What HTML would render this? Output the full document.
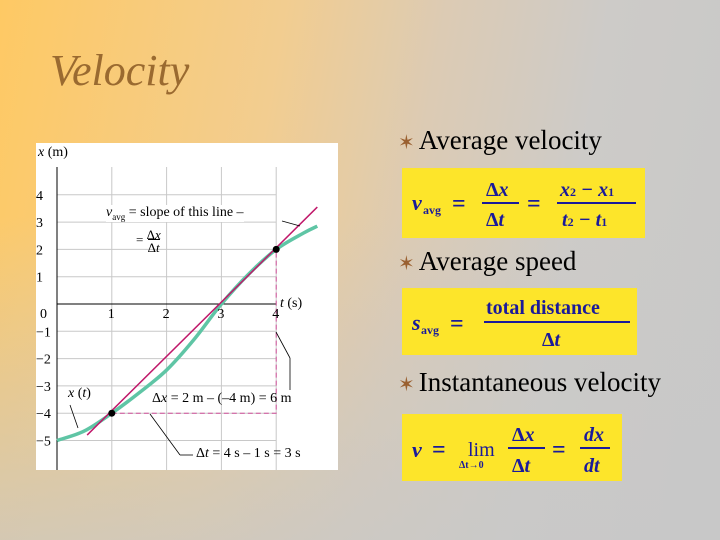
<!DOCTYPE html>
<html><head><meta charset="utf-8"><style>
body{margin:0;width:720px;height:540px;overflow:hidden;font-family:"Liberation Serif",serif;}
#slide{position:absolute;left:0;top:0;width:720px;height:540px;background:linear-gradient(100deg,#fec964 0%,#f2cd90 35%,#dccbb4 55%,#cdcbc8 75%,#c8c8c8 100%);}
#vig{position:absolute;left:0;top:0;width:720px;height:540px;background:linear-gradient(180deg,rgba(200,200,200,0) 0%,rgba(200,200,200,0) 40%,rgba(200,200,200,0.75) 100%);}
.title{position:absolute;left:50px;top:45px;font-style:italic;font-size:44px;color:#9a6a30;}
.bullet{position:absolute;font-size:27px;color:#000;white-space:nowrap;}
.bullet span{color:#9a6030;font-size:20px;margin-right:4px;}
.box{position:absolute;background:#fde52a;}
.box svg{position:absolute;left:0;top:0;}
.lab{position:absolute;white-space:nowrap;}
</style></head><body>
<div id="slide"></div>
<div id="vig"></div>
<div class="title">Velocity</div>

<div class="bullet" style="left:398px;top:125px"><span>✶</span>Average velocity</div>
<div class="bullet" style="left:398px;top:246px"><span>✶</span>Average speed</div>
<div class="bullet" style="left:398px;top:367px"><span>✶</span>Instantaneous velocity</div>

<div class="box" style="left:402px;top:168px;width:243px;height:70px">
<svg width="243" height="70" font-family="Liberation Serif,serif" fill="#1a1a9a" font-weight="bold">
<text x="10" y="42" font-style="italic" font-size="22">v</text><text x="21" y="46" font-size="12">avg</text>
<text x="50" y="43" font-size="24">=</text>
<text x="84" y="28" font-size="20">Δ<tspan font-style="italic">x</tspan></text>
<line x1="80" y1="35" x2="117" y2="35" stroke="#1a1a9a" stroke-width="2"/>
<text x="84" y="58" font-size="20">Δ<tspan font-style="italic">t</tspan></text>
<text x="125" y="43" font-size="24">=</text>
<text x="158" y="28" font-size="20" font-style="italic">x<tspan font-size="12" font-style="normal">2</tspan> − x<tspan font-size="12" font-style="normal">1</tspan></text>
<line x1="155" y1="35" x2="234" y2="35" stroke="#1a1a9a" stroke-width="2"/>
<text x="160" y="58" font-size="20" font-style="italic">t<tspan font-size="12" font-style="normal">2</tspan> − t<tspan font-size="12" font-style="normal">1</tspan></text>
</svg></div>

<div class="box" style="left:402px;top:288px;width:235px;height:67px">
<svg width="235" height="67" font-family="Liberation Serif,serif" fill="#1a1a9a" font-weight="bold">
<text x="10" y="42" font-style="italic" font-size="22">s</text><text x="19" y="46" font-size="12">avg</text>
<text x="48" y="43" font-size="24">=</text>
<text x="84" y="26" font-size="20">total distance</text>
<line x1="82" y1="34" x2="228" y2="34" stroke="#1a1a9a" stroke-width="2"/>
<text x="140" y="58" font-size="20">Δ<tspan font-style="italic">t</tspan></text>
</svg></div>

<div class="box" style="left:402px;top:414px;width:220px;height:67px">
<svg width="220" height="67" font-family="Liberation Serif,serif" fill="#1a1a9a" font-weight="bold">
<text x="10" y="43" font-style="italic" font-size="22">v</text>
<text x="30" y="43" font-size="24">=</text>
<text x="66" y="42" font-size="20" font-weight="normal">lim</text>
<text x="57" y="54" font-size="10">Δt→0</text>
<text x="110" y="27" font-size="20">Δ<tspan font-style="italic">x</tspan></text>
<line x1="106" y1="34" x2="143" y2="34" stroke="#1a1a9a" stroke-width="2"/>
<text x="110" y="58" font-size="20">Δ<tspan font-style="italic">t</tspan></text>
<text x="150" y="43" font-size="24">=</text>
<text x="182" y="27" font-size="20" font-style="italic">dx</text>
<line x1="178" y1="34" x2="208" y2="34" stroke="#1a1a9a" stroke-width="2"/>
<text x="182" y="58" font-size="20" font-style="italic">dt</text>
</svg></div>

<svg id="chart" style="position:absolute;left:0;top:0" width="720" height="540" font-family="Liberation Serif,serif">
<rect x="36" y="143" width="302" height="327" fill="#fff"/>
<g id="grid"></g><g id="marks"></g><g id="labels"></g>
</svg>
<script>
const tTicks=[1,2,3,4];
const xTicks=[-5,-4,-3,-2,-1,0,1,2,3,4];
const xTickLabels=["−5","−4","−3","−2","−1","0","1","2","3","4"];
const curveT=[0,0.5,1,1.5,2,2.5,3,3.5,4,4.5,4.75];
const curveX=[-5,-4.65,-4,-3.25,-2.42,-1.3,0,1.1,2,2.6,2.85];
const pointT=[1,4];
const pointX=[-4,2];
const lineT=[0.55,4.75];
const lineX=[-4.8,3.55];
const sx=t=>57+t*54.8;
const sy=x=>304-x*27.3;
const NS="http://www.w3.org/2000/svg";
function mk(tag,attrs,parent){const e=document.createElementNS(NS,tag);for(const k in attrs)e.setAttribute(k,attrs[k]);document.getElementById(parent).appendChild(e);return e;}
const gTop=167,gBot=470;
for(const t of tTicks){const l=mk('line',{x1:sx(t),x2:sx(t),y1:gTop,y2:gBot,stroke:'#c8c8c8','stroke-width':1},'grid');


const tx=mk('text',{x:sx(t)-4,y:318,'font-size':14},'labels');tx.textContent=t;

}
xTicks.forEach((v,i)=>{if(v!==0){const l=mk('line',{x1:57,x2:sx(4),y1:sy(v),y2:sy(v),stroke:'#c8c8c8','stroke-width':1},'grid');

}
const tx=mk('text',{x:v===0?40:36,y:v===0?318:sy(v)+5,'font-size':14},'labels');tx.textContent=xTickLabels[i];

});
let a=mk('line',{x1:57,x2:57,y1:gTop,y2:gBot,stroke:'#000','stroke-width':1},'grid');


a=mk('line',{x1:57,x2:sx(4),y1:sy(0),y2:sy(0),stroke:'#000','stroke-width':1},'grid');


const P=curveT.map((t,i)=>[sx(t),sy(curveX[i])]);
let d='M'+P[0][0]+','+P[0][1];
for(let i=0;i<P.length-1;i++){const p0=P[Math.max(i-1,0)],p1=P[i],p2=P[i+1],p3=P[Math.min(i+2,P.length-1)];
d+=` C${p1[0]+(p2[0]-p0[0])/6},${p1[1]+(p2[1]-p0[1])/6} ${p2[0]-(p3[0]-p1[0])/6},${p2[1]-(p3[1]-p1[1])/6} ${p2[0]},${p2[1]}`;}
const c=mk('path',{d:d,fill:'none',stroke:'#5fc5a5','stroke-width':3.5},'marks');


const dl=mk('polyline',{points:`${sx(pointT[0])},${sy(pointX[0])} ${sx(pointT[1])},${sy(pointX[0])} ${sx(pointT[1])},${sy(pointX[1])}`,fill:'none',stroke:'#d0509a','stroke-width':1,'stroke-dasharray':'5,3'},'marks');


const sl=mk('line',{x1:sx(lineT[0]),y1:sy(lineX[0]),x2:sx(lineT[1]),y2:sy(lineX[1]),stroke:'#c0186a','stroke-width':1.5},'marks');


pointT.forEach((t,i)=>{const p=mk('circle',{cx:sx(t),cy:sy(pointX[i]),r:3.5,fill:'#000'},'marks');

});
const leaders=[[282,221,300,226],[276,332,290,358],[290,358,290,390],[150,414,180,455],[180,455,193,455],[70,405,78,428]];
leaders.forEach(L=>{const l=mk('line',{x1:L[0],y1:L[1],x2:L[2],y2:L[3],stroke:'#000','stroke-width':0.8},'marks');

});
</script>
<div style="position:absolute;left:0;top:0;width:720px;height:540px;font-family:'Liberation Serif',serif;color:#000">
<div class="lab" style="left:38px;top:145px;font-size:14px"><i>x</i> (m)</div>
<div class="lab" style="left:280px;top:296px;font-size:14px"><i>t</i> (s)</div>
<div class="lab" style="left:106px;top:205px;font-size:14px;background:#fff"><i>v</i><sub style="font-size:9px">avg</sub> = slope of this line –</div>
<div class="lab" style="left:136px;top:228px;font-size:13px;line-height:13px">= <span style="display:inline-block;text-align:center;vertical-align:middle">Δ<i>x</i><br><span style="border-top:1px solid #000">Δ<i>t</i></span></span></div>
<div class="lab" style="left:68px;top:386px;font-size:14px"><i>x</i> (<i>t</i>)</div>
<div class="lab" style="left:152px;top:391px;font-size:14px">Δ<i>x</i> = 2 m – (–4 m) = 6 m</div>
<div class="lab" style="left:196px;top:446px;font-size:14px">Δ<i>t</i> = 4 s – 1 s = 3 s</div>
</div>
</body></html>
